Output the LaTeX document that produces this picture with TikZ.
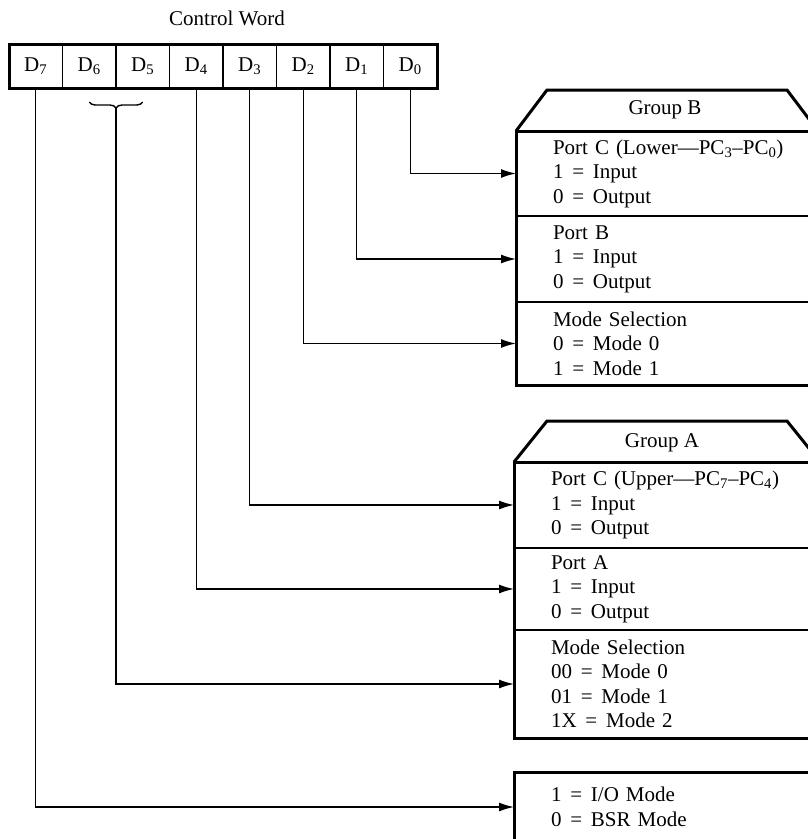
\documentclass[tikz,border=0pt]{standalone}
\usepackage{fontspec}
\setmainfont{Liberation Serif}
\usetikzlibrary{arrows.meta,positioning,decorations.pathreplacing,calc}
\newcommand{\eqs}{\hspace{0.42em}=\hspace{0.42em}}
\begin{document}
\begin{tikzpicture}[x=1pt,y=1pt,
  every node/.style={font=\fontsize{21}{24.5}\selectfont},
  cell/.style={draw, line width=1.3pt, minimum width=53.5pt, minimum height=44pt, inner sep=0pt, outer sep=0pt, anchor=north west},
  sect/.style={draw, line width=1.3pt, anchor=north west, text width=280pt, inner xsep=37pt, inner ysep=0pt, align=left, outer sep=0pt},
  conn/.style={line width=1.4pt, -{Latex[length=15pt,width=9pt]}},
  thinline/.style={line width=1.4pt},
  heavy/.style={line width=3pt, line join=miter}]
\clip (0,0) rectangle (808,-839);
\fill[white] (0,0) rectangle (808,-839);

% control word
\node (cw) at (227,-18) {Control Word};
\node[cell] (d7) at (9,-44) {D\textsubscript{7}};
\node[cell] (d6) at (d7.north east) {D\textsubscript{6}};
\node[cell] (d5) at (d6.north east) {D\textsubscript{5}};
\node[cell] (d4) at (d5.north east) {D\textsubscript{4}};
\node[cell] (d3) at (d4.north east) {D\textsubscript{3}};
\node[cell] (d2) at (d3.north east) {D\textsubscript{2}};
\node[cell] (d1) at (d2.north east) {D\textsubscript{1}};
\node[cell] (d0) at (d1.north east) {D\textsubscript{0}};
\draw[heavy] (d7.north west) rectangle (d0.south east);

% Group B
\node[sect, minimum height=85pt] (b1) at (516,-131) {Port C (Lower---PC\textsubscript{3}--PC\textsubscript{0})\\1\eqs Input\\0\eqs Output};
\node[sect, minimum height=86pt] (b2) at (b1.south west) {Port B\\1\eqs Input\\0\eqs Output};
\node[sect, minimum height=83pt] (b3) at (b2.south west) {Mode Selection\\0\eqs Mode 0\\1\eqs Mode 1};
\draw[heavy] (b1.north west) rectangle (b3.south east);
\draw[heavy] (b1.north west) -- ++(31,41) -- ++(240,0) -- ++(31,-41);
\node (gbt) at ($(b1.north west)+(149,21)$) {Group B};

% Group A
\node[sect, minimum height=86pt] (a1) at (514,-462) {Port C (Upper---PC\textsubscript{7}--PC\textsubscript{4})\\1\eqs Input\\0\eqs Output};
\node[sect, minimum height=82pt] (a2) at (a1.south west) {Port A\\1\eqs Input\\0\eqs Output};
\node[sect, minimum height=108pt] (a3) at (a2.south west) {Mode Selection\\00\eqs Mode 0\\01\eqs Mode 1\\1X\eqs Mode 2};
\draw[heavy] (a1.north west) rectangle (a3.south east);
\draw[heavy] (a1.north west) -- ++(33,41) -- ++(240,0) -- ++(33,-41);
\node (gat) at ($(a1.north west)+(148,19)$) {Group A};

% I/O
\node[sect, minimum height=70pt] (io) at (514,-772) {1\eqs I/O Mode\\0\eqs BSR Mode};
\draw[heavy] (io.north west) rectangle (io.south east);

% brace
\draw[thinline, decorate, decoration={brace,mirror,amplitude=6pt}] ($(d6.south)+(0,-14)$) -- ($(d5.south)+(0,-14)$);
\coordinate (brc) at ($(d6.south)!0.5!(d5.south)+(0,-20)$);

% connectors
\draw[conn] (d0.south) |- (b1.west);
\draw[conn] (d1.south) |- (b2.west);
\draw[conn] (d2.south) |- (b3.west);
\draw[conn] (d3.south) |- (a1.west);
\draw[conn] (d4.south) |- (a2.west);
\draw[conn] (brc) |- (a3.west);
\draw[conn] (d7.south) |- (io.west);
\end{tikzpicture}
\end{document}
